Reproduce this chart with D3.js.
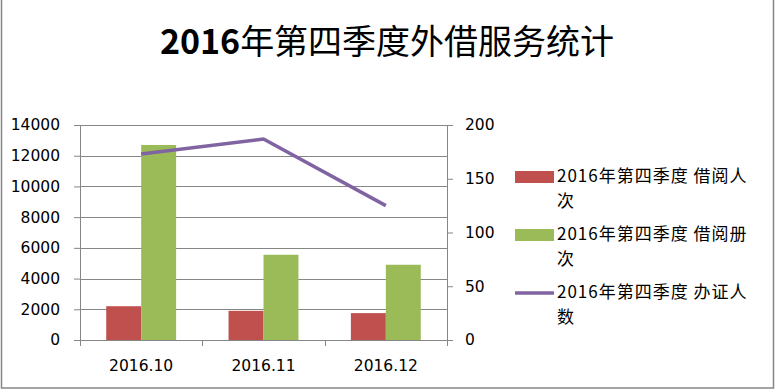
<!DOCTYPE html>
<meta charset="utf-8">
<style>
  body { margin: 0; background: #fff; }
  text { font-family: "DejaVu Sans", "Noto Sans CJK SC", sans-serif; fill: #000; }
</style>
<svg width="776" height="391"></svg>
<script src="https://d3js.org/d3.v7.min.js"></script>
<script>

var months = ["2016.10", "2016.11", "2016.12"];
var readers = [2200, 1900, 1750];        // 借阅人次
var volumes = [12700, 5550, 4900];       // 借阅册次
var cards = [173, 187, 125];             // 办证人数
var leftTicks = [0, 2000, 4000, 6000, 8000, 10000, 12000, 14000];
var rightTicks = [0, 50, 100, 150, 200];
var seriesNames = ["2016年第四季度 借阅人次", "2016年第四季度 借阅册次", "2016年第四季度 办证人数"];
var colors = ["#c0504d", "#9bbb59", "#8064a2"];

var svg = d3.select("svg"),
    margin = {top: 125, right: 329, bottom: 51, left: 80},
    width = +svg.attr("width") - margin.left - margin.right,
    height = +svg.attr("height") - margin.top - margin.bottom;

// chart frame
svg.append("rect")
    .attr("x", 1.5).attr("y", -2)
    .attr("width", 772).attr("height", 390)
    .attr("fill", "none").attr("stroke", "#868686").attr("stroke-width", 1.5);

var title = svg.append("text")
    .attr("x", 387).attr("y", 54)
    .attr("text-anchor", "middle")
    .style("font-family", "'Noto Sans CJK SC', sans-serif")
    .style("font-size", "34px");
title.append("tspan").style("font-weight", "bold").text("2016");
title.append("tspan").text("年第四季度外借服务统计");

var x0 = d3.scaleBand().domain(months).range([0, width]),
    x1 = d3.scaleBand().domain([0, 1]).range([0, x0.bandwidth()]).paddingOuter(0.75),
    y = d3.scaleLinear().domain([0, 14000]).range([height, 0]),
    y2 = d3.scaleLinear().domain([0, 200]).range([height, 0]);

var g = svg.append("g").attr("transform", "translate(" + margin.left + "," + margin.top + ")");

// gridlines
g.selectAll(".grid").data(leftTicks.slice(1)).enter().append("line")
    .attr("x1", 0).attr("x2", width)
    .attr("y1", function(d) { return Math.round(y(d)) + 0.5; })
    .attr("y2", function(d) { return Math.round(y(d)) + 0.5; })
    .attr("stroke", "#868686");

// bars
var groups = g.selectAll(".month").data(months).enter().append("g")
    .attr("transform", function(d) { return "translate(" + x0(d) + ",0)"; });

groups.append("rect")
    .attr("x", x1(0)).attr("width", x1.bandwidth())
    .attr("y", function(d, i) { return y(readers[i]); })
    .attr("height", function(d, i) { return height - y(readers[i]); })
    .attr("fill", colors[0]);

groups.append("rect")
    .attr("x", x1(1)).attr("width", x1.bandwidth())
    .attr("y", function(d, i) { return y(volumes[i]); })
    .attr("height", function(d, i) { return height - y(volumes[i]); })
    .attr("fill", colors[1]);

// line on secondary axis
var line = d3.line()
    .x(function(d, i) { return x0(months[i]) + x0.bandwidth() / 2; })
    .y(function(d) { return y2(d); });

g.append("path").datum(cards)
    .attr("d", line)
    .attr("fill", "none")
    .attr("stroke", colors[2])
    .attr("stroke-width", 3.5);

// axes
function styleAxis(sel) {
  sel.select(".domain").attr("stroke", "#868686");
  sel.selectAll(".tick line").attr("stroke", "#868686");
  sel.selectAll(".tick text").style("font-size", "15.5px").attr("fill", "#000");
}

g.append("g")
    .call(d3.axisLeft(y).tickValues(leftTicks).tickFormat(d3.format("d")).tickSize(6).tickSizeOuter(0).tickPadding(14))
    .call(styleAxis);

g.append("g")
    .attr("transform", "translate(" + width + ",0)")
    .call(d3.axisRight(y2).tickValues(rightTicks).tickFormat(d3.format("d")).tickSize(6).tickSizeOuter(0).tickPadding(14))
    .call(styleAxis)
    .selectAll(".tick text").attr("x", 18);

var xAxis = g.append("g").attr("transform", "translate(0," + height + ")");
xAxis.append("line").attr("x1", 0).attr("x2", width).attr("y1", 0.5).attr("y2", 0.5).attr("stroke", "#868686");
xAxis.selectAll(".sep").data(d3.range(months.length + 1)).enter().append("line")
    .attr("x1", function(d) { return Math.round(d * x0.step()) + 0.5; })
    .attr("x2", function(d) { return Math.round(d * x0.step()) + 0.5; })
    .attr("y1", 0).attr("y2", 6)
    .attr("stroke", "#868686");
xAxis.selectAll(".lbl").data(months).enter().append("text")
    .attr("x", function(d) { return x0(d) + x0.bandwidth() / 2; })
    .attr("y", 31)
    .attr("text-anchor", "middle")
    .style("font-size", "15.5px")
    .text(function(d) { return d; });

// legend
var legendY = [177, 235, 293];
var legend = svg.selectAll(".legend").data(seriesNames).enter().append("g")
    .attr("transform", function(d, i) { return "translate(515," + legendY[i] + ")"; });

legend.each(function(d, i) {
  var el = d3.select(this);
  if (i < 2) {
    el.append("rect").attr("x", 0).attr("y", -6).attr("width", 39).attr("height", 12).attr("fill", colors[i]);
  } else {
    el.append("line").attr("x1", 0).attr("x2", 39).attr("y1", 0).attr("y2", 0)
      .attr("stroke", colors[i]).attr("stroke-width", 3.5);
  }
  var t = el.append("text").attr("x", 42).attr("y", 5)
      .style("font-family", "'Noto Sans CJK SC', sans-serif")
      .style("font-size", "17px").style("letter-spacing", "1px");
  t.append("tspan").attr("x", 42).attr("dy", 0).text(d.slice(0, d.length - 1));
  t.append("tspan").attr("x", 42).attr("dy", 25).text(d.slice(d.length - 1));
});

</script>
